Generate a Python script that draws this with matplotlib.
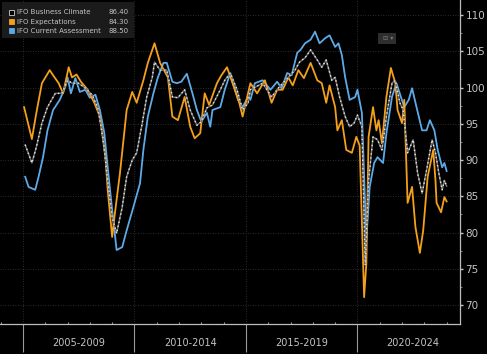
import matplotlib
matplotlib.use("Agg")
import matplotlib.pyplot as plt
from matplotlib.patches import Rectangle

# ── data (decimal years, index values) ──
exp_t = [2005.05, 2005.4, 2005.6, 2005.85, 2006.2, 2006.35, 2006.6, 2006.8, 2007.05, 2007.2,
         2007.4, 2007.6, 2007.9, 2008.2, 2008.45, 2008.7, 2008.8, 2009.0, 2009.1, 2009.35,
         2009.65, 2009.9, 2010.1, 2010.4, 2010.6, 2010.8, 2010.9, 2011.15, 2011.5, 2011.7,
         2011.95, 2012.25, 2012.5, 2012.7, 2012.95, 2013.15, 2013.35, 2013.7, 2013.9, 2014.15,
         2014.4, 2014.7, 2014.85, 2015.2, 2015.5, 2015.85, 2016.15, 2016.4, 2016.65, 2016.9,
         2017.1, 2017.35, 2017.6, 2017.9, 2018.2, 2018.4, 2018.6, 2018.75, 2019.0, 2019.1,
         2019.3, 2019.5, 2019.75, 2019.95, 2020.1, 2020.3, 2020.4, 2020.5, 2020.7, 2020.85,
         2020.95, 2021.1, 2021.3, 2021.5, 2021.7, 2021.8, 2022.0, 2022.1, 2022.25, 2022.45,
         2022.6, 2022.8, 2022.95, 2023.15, 2023.4, 2023.5, 2023.55, 2023.75, 2023.9, 2024.0]
exp_v = [97.3, 92.9, 96.5, 100.6, 102.4, 101.7, 100.6, 99.2, 102.8, 101.4,
         101.8, 100.8, 99.7, 97.9, 96.0, 90.4, 85.9, 79.4, 82.1, 88.2,
         96.9, 99.4, 97.9, 101.0, 103.4, 105.2, 106.1, 103.4, 101.4, 96.0,
         95.5, 98.7, 94.6, 93.0, 93.7, 99.2, 97.6, 100.6, 101.7, 102.8,
         100.6, 97.9, 96.0, 100.6, 99.2, 101.0, 97.9, 99.7, 99.7, 101.4,
         100.3, 102.4, 101.3, 103.4, 101.0, 100.6, 97.9, 100.3, 97.3, 94.1,
         95.5, 91.4, 91.0, 93.2, 92.0, 71.1, 75.8, 93.2, 97.3, 94.1,
         95.5, 92.3, 98.7, 102.7, 100.6, 96.9, 95.1, 98.3, 84.1, 86.3,
         80.8, 77.2, 80.3, 87.7, 91.4, 87.2, 84.1, 82.8, 84.9, 84.3]

cur_t = [2005.1, 2005.25, 2005.55, 2005.7, 2005.9, 2006.1, 2006.35, 2006.65, 2006.9, 2007.0,
         2007.15, 2007.35, 2007.55, 2007.8, 2008.0, 2008.25, 2008.45, 2008.65, 2008.8, 2009.0,
         2009.2, 2009.45, 2009.65, 2009.95, 2010.25, 2010.4, 2010.6, 2010.85, 2011.05, 2011.3,
         2011.45, 2011.7, 2011.9, 2012.1, 2012.35, 2012.6, 2012.8, 2013.0, 2013.25, 2013.4,
         2013.5, 2013.85, 2014.05, 2014.3, 2014.4, 2014.65, 2014.85, 2015.1, 2015.2, 2015.4,
         2015.75, 2016.1, 2016.4, 2016.6, 2016.85, 2017.05, 2017.3, 2017.45, 2017.65, 2017.9,
         2018.1, 2018.3, 2018.55, 2018.75, 2019.0, 2019.15, 2019.3, 2019.45, 2019.65, 2019.9,
         2020.0, 2020.2, 2020.4, 2020.55, 2020.75, 2020.9, 2021.15, 2021.3, 2021.55, 2021.75,
         2021.95, 2022.1, 2022.3, 2022.45, 2022.65, 2022.9, 2023.1, 2023.25, 2023.45, 2023.6,
         2023.8, 2023.9, 2024.0]
cur_v = [87.7, 86.3, 85.9, 87.7, 90.4, 94.1, 96.9, 98.3, 100.1, 101.4,
         99.2, 101.3, 99.4, 99.7, 98.6, 99.0, 96.9, 93.7, 89.0, 83.1,
         77.6, 78.0, 80.3, 83.5, 86.8, 91.4, 96.0, 99.2, 101.4, 103.4,
         103.4, 100.8, 100.6, 100.8, 101.9, 99.2, 96.9, 95.3, 96.5, 94.6,
         96.9, 97.3, 99.7, 102.0, 100.8, 98.3, 97.3, 98.7, 98.3, 100.6,
         101.0, 99.7, 100.8, 99.9, 102.0, 101.7, 104.8, 105.2, 106.1, 106.6,
         107.7, 106.1, 106.8, 107.2, 105.6, 106.1, 104.5, 101.4, 98.3, 98.7,
         99.7, 96.5, 79.0, 86.3, 89.6, 90.4, 89.6, 93.7, 98.7, 100.6,
         98.7, 97.3, 98.3, 99.9, 97.3, 94.1, 94.1, 95.5, 94.1, 91.4,
         89.0, 89.6, 88.5]

clim_t = [2005.1, 2005.4, 2005.6, 2005.85, 2006.1, 2006.45, 2006.75, 2007.0, 2007.2, 2007.5,
          2007.8, 2008.1, 2008.35, 2008.6, 2008.8, 2009.0, 2009.2, 2009.45, 2009.65, 2009.9,
          2010.1, 2010.35, 2010.55, 2010.8, 2010.9, 2011.15, 2011.45, 2011.7, 2011.95, 2012.25,
          2012.5, 2012.8, 2013.0, 2013.25, 2013.5, 2013.85, 2014.05, 2014.3, 2014.6, 2014.85,
          2015.1, 2015.2, 2015.75, 2016.15, 2016.5, 2016.9, 2017.2, 2017.4, 2017.65, 2017.9,
          2018.2, 2018.4, 2018.6, 2018.85, 2019.0, 2019.2, 2019.45, 2019.65, 2019.85, 2020.0,
          2020.2, 2020.35, 2020.5, 2020.7, 2020.9, 2021.1, 2021.3, 2021.55, 2021.7, 2021.9,
          2022.05, 2022.25, 2022.5, 2022.7, 2022.9, 2023.1, 2023.35, 2023.5, 2023.65, 2023.8,
          2023.9, 2024.0]
clim_v = [92.1, 89.6, 91.8, 95.1, 97.3, 99.2, 99.2, 101.0, 100.6, 100.6,
          99.9, 99.0, 97.3, 92.8, 87.2, 82.1, 79.9, 83.5, 87.7, 90.0,
          91.0, 95.1, 98.7, 101.4, 103.5, 102.4, 102.4, 98.7, 98.6, 99.7,
          96.9, 94.8, 95.3, 97.2, 97.6, 99.7, 101.0, 102.0, 99.7, 96.9,
          97.9, 99.7, 100.6, 98.7, 100.1, 101.4, 102.4, 103.5, 104.1, 105.2,
          103.8, 102.8, 103.8, 101.0, 101.4, 98.7, 96.0, 94.6, 95.1, 96.2,
          94.6, 75.5, 87.2, 93.2, 92.8, 91.4, 96.0, 100.6, 101.0, 97.9,
          96.9, 91.0, 92.8, 88.2, 85.4, 88.6, 92.8, 91.0, 88.2, 85.9,
          87.2, 86.4]

legend_names = ["IFO Business Climate", "IFO Expectations", "IFO Current Assessment"]
legend_values = ["86.40", "84.30", "88.50"]
period_labels = ["2005-2009", "2010-2014", "2015-2019", "2020-2024"]
period_starts = [2005, 2010, 2015, 2020]
y_ticks = [70, 75, 80, 85, 90, 95, 100, 105, 110]

ORANGE = "#F5A01A"
BLUE = "#5DAAE8"
TXT = "#C4C4C4"

W, H = 487, 354
fig = plt.figure(figsize=(W / 100, H / 100), dpi=100, facecolor="black")
ax = fig.add_axes([0, 1 - 324 / H, 460 / W, 324 / H], facecolor="black")

ax.plot(cur_t, cur_v, color=BLUE, lw=1.3, zorder=3)
ax.plot(exp_t, exp_v, color=ORANGE, lw=1.3, zorder=4)
ax.plot(clim_t, clim_v, color="#6e6e6e", lw=1.1, zorder=5)
ax.plot(clim_t, clim_v, color="#e8e8e8", lw=1.0, ls=(0, (1, 2)), zorder=6)

ax.set_xlim(2003.97, 2024.6)
ax.set_ylim(67.4, 112.07)

# y axis on the right
ax.yaxis.tick_right()
ax.set_yticks(y_ticks)
ax.set_yticks([v + 2.5 for v in y_ticks[:-1]], minor=True)
ax.tick_params(axis="y", which="major", colors=TXT, labelsize=7.5, length=2.5,
               width=1, direction="out", pad=1.5)
ax.tick_params(axis="y", which="minor", colors="#777777", length=1.5, width=0.8)

# x axis: period separators + yearly minor ticks
ax.set_xticks(period_starts)
ax.set_xticklabels([])
ax.set_xticks(range(2004, 2025), minor=True)
ax.tick_params(axis="x", which="major", colors="#9a9a9a", length=20, width=0.8,
               direction="out")
ax.tick_params(axis="x", which="minor", colors="#9a9a9a", length=1.5, width=0.8,
               direction="in")
for start, lab in zip(period_starts, period_labels):
    ax.text(start + 2.5, -0.058, lab, transform=ax.get_xaxis_transform(),
            ha="center", va="center", color=TXT, fontsize=7)

ax.grid(True, which="major", color="#3a3a3a", ls=(0, (1, 2)), lw=0.6)

for side in ["top", "left"]:
    ax.spines[side].set_visible(False)
for side in ["bottom", "right"]:
    ax.spines[side].set_color("#bdbdbd")
    ax.spines[side].set_linewidth(0.9)

# legend box, Bloomberg style
fig.patches.append(Rectangle((2 / W, 1 - 38 / H), 132 / W, 36 / H,
                             transform=fig.transFigure, facecolor="#1b1b1b",
                             edgecolor="none", zorder=10))
swatches = [("black", "#cfcfcf"), (ORANGE, ORANGE), (BLUE, BLUE)]
for i, (name, val) in enumerate(zip(legend_names, legend_values)):
    yy = 1 - (12.3 + 9.3 * i) / H
    fc, ec = swatches[i]
    fig.patches.append(Rectangle((9 / W, yy - 2.5 / H), 5 / W, 5 / H,
                                 transform=fig.transFigure, facecolor=fc,
                                 edgecolor=ec, lw=0.6, zorder=11))
    fig.text(17 / W, yy, name, color=TXT, fontsize=5.0, va="center", ha="left", zorder=12)
    fig.text(129 / W, yy, val, color=TXT, fontsize=5.0, va="center", ha="right", zorder=12)

# small chart toolbar icon
fig.patches.append(Rectangle((378 / W, 1 - 44 / H), 18 / W, 11 / H,
                             transform=fig.transFigure, facecolor="#2e2e2e",
                             edgecolor="none", zorder=10))
fig.text(383 / W, 1 - 38.5 / H, "⊟ ▾", color="#7a7a7a", fontsize=4.5,
         va="center", ha="left", zorder=11)

fig.savefig("out.png", dpi=100, facecolor="black")
